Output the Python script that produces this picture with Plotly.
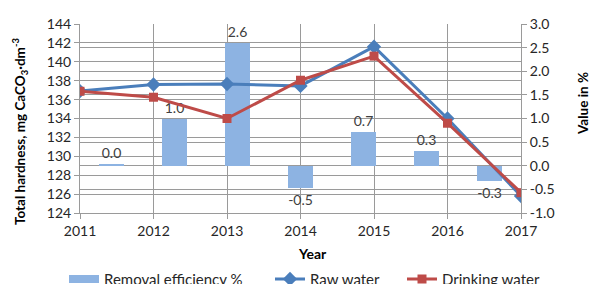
import plotly.graph_objects as go

years = [2011, 2012, 2013, 2014, 2015, 2016, 2017]
raw_water = [136.9, 137.6, 137.65, 137.45, 141.6, 134.0, 125.8]
drinking_water = [136.88, 136.25, 134.0, 138.05, 140.6, 133.5, 126.15]
removal_eff = [0.025, 1.0, 2.6, -0.47, 0.72, 0.31, -0.33]
removal_labels = ["0.0", "1.0", "2.6", "-0.5", "0.7", "0.3", "-0.3"]
left_ticks = [124, 126, 128, 130, 132, 134, 136, 138, 140, 142, 144]
right_ticks = [-1.0, -0.5, 0.0, 0.5, 1.0, 1.5, 2.0, 2.5, 3.0]

FONT = "Lato"
TXT = "#262626"
GRID = "#9a9a9a"
BLUE = "#4A7EBB"
RED = "#BE4B48"
BAR = "#8DB3E2"

ML, MT, PW, PH = 80, 24, 441, 189
FW, FH = 593, 284

fig = go.Figure()

fig.add_trace(go.Bar(
    x=list(range(len(years))), y=removal_eff,
    xaxis="x", yaxis="y",
    name="Removal efficiency %", showlegend=False,
    marker=dict(color=BAR, line=dict(width=0)),
    width=0.4,
    text=removal_labels, textposition="outside",
    textfont=dict(family=FONT, size=14, color="#404040"),
    cliponaxis=False,
))
# legend entry for the bars (wide flat box like the original legend key)
fig.add_trace(go.Scatter(
    x=[None], y=[None], xaxis="x", yaxis="y", mode="lines",
    name="Removal efficiency %", legend="legend",
    line=dict(color=BAR, width=8),
))

fig.add_trace(go.Scatter(
    x=years, y=raw_water, xaxis="x2", yaxis="y2",
    name="Raw water", legend="legend2", mode="lines+markers",
    line=dict(color=BLUE, width=3),
    marker=dict(symbol="diamond", size=11, color=BLUE),
))
fig.add_trace(go.Scatter(
    x=years, y=drinking_water, xaxis="x2", yaxis="y2",
    name="Drinking water", legend="legend3", mode="lines+markers",
    line=dict(color=RED, width=3),
    marker=dict(symbol="square", size=9, color=RED),
))

def px_x(p):
    return (p - ML) / PW

def px_y(p):
    return (MT + PH - p) / PH

def leg(xpx):
    return dict(
        orientation="h", x=px_x(xpx), xanchor="left",
        y=-0.263, yanchor="top",
        font=dict(family=FONT, size=15, color=TXT),
        bgcolor="rgba(0,0,0,0)", borderwidth=0,
    )

fig.update_layout(
    width=FW, height=FH,
    margin=dict(l=ML, r=FW - ML - PW, t=MT, b=FH - MT - PH, autoexpand=False),
    paper_bgcolor="white", plot_bgcolor="white",
    font=dict(family=FONT, size=14, color=TXT),
    showlegend=True,
    bargap=0,
    xaxis=dict(
        range=[-0.5, len(years) - 0.5], visible=False, showgrid=False,
    ),
    xaxis2=dict(
        overlaying="x", side="bottom",
        range=[years[0], years[-1]], tickvals=years,
        showgrid=True, gridcolor=GRID, gridwidth=1,
        showline=True, linecolor=GRID, linewidth=1,
        ticks="outside", ticklen=5, tickcolor=GRID,
        zeroline=False,
        tickfont=dict(family=FONT, size=14, color=TXT),
    ),
    yaxis=dict(
        side="right", range=[-1.0, 3.0],
        tickvals=right_ticks, ticktext=[f"{v:.1f}" for v in right_ticks],
        showgrid=True, gridcolor=GRID, gridwidth=1,
        showline=True, linecolor=GRID, linewidth=1,
        ticks="outside", ticklen=5, tickcolor=GRID,
        zeroline=False,
        tickfont=dict(family=FONT, size=14, color=TXT),
    ),
    yaxis2=dict(
        overlaying="y", side="left", anchor="x2",
        range=[124, 144], tickvals=left_ticks,
        showgrid=True, gridcolor=GRID, gridwidth=1,
        showline=True, linecolor=GRID, linewidth=1,
        ticks="outside", ticklen=5, tickcolor=GRID,
        zeroline=False,
        tickfont=dict(family=FONT, size=14, color=TXT),
    ),
    legend=leg(64),
    legend2=leg(270),
    legend3=leg(402),
    annotations=[
        dict(text="<b>Year</b>", xref="paper", yref="paper",
             x=px_x(312), y=px_y(253), xanchor="center", yanchor="middle",
             showarrow=False, font=dict(family=FONT, size=14, color="#000000")),
        dict(text="<b>Total hardness, mg CaCO<sub>3</sub>·dm<sup>-3</sup></b>",
             xref="paper", yref="paper", textangle=-90,
             x=px_x(20), y=px_y(132), xanchor="center", yanchor="middle",
             showarrow=False, font=dict(family=FONT, size=13.5, color="#000000")),
        dict(text="<b>Value in %</b>", xref="paper", yref="paper", textangle=-90,
             x=px_x(583), y=px_y(104), xanchor="center", yanchor="middle",
             showarrow=False, font=dict(family=FONT, size=13.5, color="#000000")),
    ],
)

fig.write_html(
    "out.html",
    config={"displayModeBar": False},
    post_script="document.body.style.margin='0';document.body.style.overflow='hidden';",
)
